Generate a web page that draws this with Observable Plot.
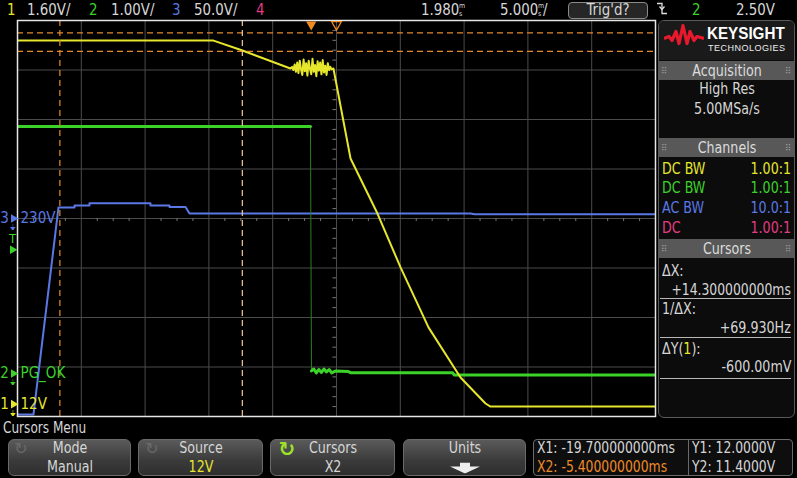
<!DOCTYPE html>
<html><head><meta charset="utf-8">
<script src="https://cdn.jsdelivr.net/npm/d3@7"></script>
<script src="https://cdn.jsdelivr.net/npm/@observablehq/plot@0.6"></script>
<style>
html,body{margin:0;padding:0;background:#000;}
#scope{position:relative;width:797px;height:478px;overflow:hidden;background:#000;
  font-family:"Liberation Sans Narrow","DejaVu Sans Condensed","Arial Narrow","Liberation Sans",sans-serif;color:#d6d6d6;}
#scope > svg{position:absolute;left:0;top:0;}
.t{position:absolute;white-space:nowrap;line-height:1;font-size:15px;}
.st{display:inline-flex;flex-direction:column;font-size:7px;line-height:8px;vertical-align:middle;margin-left:1px;}
.box{position:absolute;box-sizing:border-box;}
.btn{position:absolute;box-sizing:border-box;top:439px;height:37px;border-radius:6px;
  background:linear-gradient(#5a5a5a,#3a3a3a 60%,#2e2e2e);border:1px solid #6a6a6a;}
.hdr{position:absolute;left:659px;width:135px;height:19px;background:#585858;}
.sep{position:absolute;left:660px;width:131px;height:1px;background:#b8b8b8;}
</style></head><body><div id="scope"></div>
<script>
// ---- scope settings ----
const timebaseMsPerDiv = 5.0;
const delayMs = 1.98;
const channelLabels = ["12V", "PG_OK", "230V"];
const channelColors = ["#e6e62c", "#3cd22a", "#5a78e6"];
const voltsPerDiv = [1.6, 1.0, 50.0];
const offsetV = [6.0, 3.13, 0.0];          // voltage at screen centre
const triggerTimeMs = 0;
const triggerLevelV = 2.5;                 // on channel 2
const cursorX = [-19.7, -5.4];             // ms
const cursorY = [12.0, 11.4];              // V on channel 1

// ---- channel 1 (12V rail) ----
const ch1Time = [-23.02, -7.66, -5.39, -1.63,
  -1.50,-1.40,-1.30,-1.20,-1.10,-1.00,-0.90,-0.80,-0.70,-0.60,-0.50,-0.40,-0.30,-0.20,-0.10,0.00,
  0.10,0.20,0.30,0.40,0.50,0.60,0.70,0.80,0.90,1.00,1.10,1.20,1.30,1.40,1.50,1.60,
  1.74, 3.08, 5.19, 7.00, 9.19, 11.70, 13.66, 14.05, 26.98];
const ch1Volts = [11.75, 11.75, 11.43, 10.85,
  10.90,10.80,10.98,10.74,11.04,10.70,11.10,10.82,10.64,11.14,10.76,11.02,10.62,11.10,10.84,10.66,
  11.16,10.74,10.96,10.60,11.08,10.78,11.04,10.66,11.12,10.72,10.94,10.64,11.02,10.80,10.90,10.82,
  10.85, 7.94, 6.16, 4.42, 2.48, 0.86, 0.02, -0.08, -0.08];

// ---- channel 2 (PG_OK) ----
const ch2Time = [-23.02, -0.06, 0.02, 0.2, 0.4, 0.6, 0.8, 1.0, 1.2, 1.4, 1.6, 1.9, 2.9, 3.08, 11.07, 11.2, 26.98];
const ch2Volts = [4.99, 4.99, 0.05, 0.09, 0.01, 0.08, 0.02, 0.09, 0.03, 0.08, 0.01, 0.05, 0.04, 0.015, 0.015, -0.03, -0.03];

// ---- channel 3 (230V mains, AC coupled) ----
const ch3Time = [-23.02, -21.77, -19.81, -18.55, -18.55, -17.38, -17.38, -12.60, -12.60, -11.11, -11.11, -9.85, -9.54, 12.5, 12.8, 26.98];
const ch3Volts = [-198, -198, 11.1, 11.1, 13.1, 13.1, 15.3, 15.3, 13.1, 13.1, 11.6, 11.6, 5.05, 5.05, 4.3, 4.3];

// ---- derived ----
const toDiv = (ch, v) => (v - offsetV[ch]) / voltsPerDiv[ch];
const tMin = delayMs - 5 * timebaseMsPerDiv, tMax = delayMs + 5 * timebaseMsPerDiv;
const ch1 = ch1Time.map((t, i) => ({t, d: toDiv(0, ch1Volts[i])}));
const ch2 = ch2Time.map((t, i) => ({t, d: toDiv(1, ch2Volts[i]), seg: t < triggerTimeMs ? "high" : "low"}));
const ch3 = ch3Time.map((t, i) => ({t, d: toDiv(2, ch3Volts[i])}));
const gridX = d3.range(-4, 5).map(k => delayMs + k * timebaseMsPerDiv);
const gridY = d3.range(-3, 4);
const minorX = d3.range(-20, 21).filter(k => k % 4 !== 0).map(k => delayMs + k * timebaseMsPerDiv / 4);
const minorY = d3.range(-20, 21).filter(k => k % 5 !== 0).map(k => k / 5);
const chan = [0, 1, 2].map(i => ({i, d: toDiv(i, 0), label: channelLabels[i], num: String(i + 1), color: channelColors[i]}));
const FONT = '"Liberation Sans Narrow","DejaVu Sans Condensed","Liberation Sans",sans-serif';

const svg = Plot.plot({
  width: 797, height: 478,
  marginLeft: 17, marginRight: 142, marginTop: 20, marginBottom: 62,
  x: {domain: [tMin, tMax], axis: null},
  y: {domain: [-4, 4], axis: null},
  style: {background: "#000", overflow: "visible"},
  marks: [
    Plot.ruleX(gridX, {stroke: "#4b4b4b", strokeWidth: 1}),
    Plot.ruleY(gridY, {stroke: "#4b4b4b", strokeWidth: 1}),
    Plot.ruleX(minorX, {x: d => d, y1: 0, y2: -0.06, stroke: "#777"}),
    Plot.ruleY(minorY, {y: d => d, x1: delayMs - 0.28, x2: delayMs, stroke: "#777"}),
    // channel 3
    Plot.line(ch3, {x: "t", y: "d", stroke: channelColors[2], strokeWidth: 2, clip: true}),
    // channel 2: dim edge, bright levels
    Plot.line(ch2, {x: "t", y: "d", stroke: "#2d7d22", strokeWidth: 1, clip: true}),
    Plot.line(ch2, {x: "t", y: "d", z: "seg", stroke: channelColors[1], strokeWidth: 3, clip: true}),
    // channel 1
    Plot.line(ch1, {x: "t", y: "d", stroke: channelColors[0], strokeWidth: 2, clip: true}),
    // cursors
    Plot.ruleY(cursorY, {y: v => toDiv(0, v), stroke: "#e58a2e", strokeWidth: 1.2, strokeDasharray: "6,4"}),
    Plot.ruleX(cursorX, {x: d => d, stroke: (d, i) => i === 1 ? "#f6c79a" : "#e58a2e", strokeWidth: 1.2, strokeDasharray: "6,4"}),
    Plot.frame({stroke: "#e6e6e6", strokeWidth: 1.5}),
    // trigger position markers
    Plot.dot([triggerTimeMs], {x: d => d, y: 4, dy: 4, symbol: "triangle", rotate: 180, r: 3.8, fill: "#f28a22", stroke: "none"}),
    Plot.dot([delayMs], {x: d => d, y: 4, dy: 4, symbol: "triangle", rotate: 180, r: 3.6, fill: "none", stroke: "#f28a22", strokeWidth: 1.3}),
    // trigger level marker
    Plot.dot([triggerLevelV], {x: tMin, y: v => toDiv(1, v), dx: -5, symbol: "triangle", rotate: 90, r: 3.2, fill: channelColors[1]}),
    Plot.text([triggerLevelV], {x: tMin, y: v => toDiv(1, v), dx: -5, dy: -11, text: () => "T", fill: channelColors[1], fontSize: 13, fontFamily: FONT}),
    // channel reference markers
    Plot.text(chan, {x: tMin, y: "d", dx: -13, text: "num", fill: "color", fontSize: 15, fontFamily: FONT}),
    Plot.dot(chan, {x: tMin, y: "d", dx: -4, symbol: "triangle", rotate: 90, r: 3.2, fill: "color"}),
    Plot.text(chan, {x: tMin, y: "d", dx: -5, dy: 9, text: () => "⏚", fill: "color", fontSize: 8, fontFamily: "DejaVu Sans"}),
    Plot.text(chan, {x: tMin, y: "d", dx: 3, text: "label", textAnchor: "start", fill: "color", fontSize: 15, fontFamily: FONT})
  ]
});
const root = document.getElementById("scope");
root.appendChild(svg);

// ---- instrument UI (text overlays) ----
function txt(s, x, y, o = {}) {
  const e = document.createElement("div");
  e.className = "t";
  e.innerHTML = s;
  e.style.top = y + "px";
  const sx = o.sx ?? 0.88;
  if (o.anchor === "end") {
    e.style.right = (797 - x) + "px";
    e.style.transformOrigin = "right center";
    e.style.transform = `translateY(-50%) scaleX(${sx})`;
  } else if (o.anchor === "middle") {
    e.style.left = x + "px";
    e.style.transformOrigin = "center center";
    e.style.transform = `translate(-50%,-50%) scaleX(${sx})`;
  } else {
    e.style.left = x + "px";
    e.style.transformOrigin = "left center";
    e.style.transform = `translateY(-50%) scaleX(${sx})`;
  }
  if (o.color) e.style.color = o.color;
  if (o.size) e.style.fontSize = o.size + "px";
  if (o.weight) e.style.fontWeight = o.weight;
  if (o.family) e.style.fontFamily = o.family;
  if (o.ls) e.style.letterSpacing = o.ls;
  root.appendChild(e);
  return e;
}
function box(cls, x, y, w, h, css = "") {
  const e = document.createElement("div");
  e.className = cls;
  e.style.cssText += `left:${x}px;top:${y}px;width:${w}px;height:${h}px;` + css;
  root.appendChild(e);
  return e;
}
const PINK = "#e23c80", ORANGE = "#f08a2a";

// top bar
const TB = {size: 16, sx: 0.93};
txt("1", 7, 10, {...TB, color: channelColors[0]});
txt("1.60V/", 27, 10, TB);
txt("2", 89, 10, {...TB, color: channelColors[1]});
txt("1.00V/", 111, 10, TB);
txt("3", 172, 10, {...TB, color: channelColors[2]});
txt("50.0V/", 194, 10, TB);
txt("4", 256, 10, {...TB, color: PINK});
txt("1.980", 421, 10, TB);
txt('<span class="st"><span>m</span><span>s</span></span>', 458, 10, {sx: 1});
txt("5.000", 500, 10, TB);
txt('<span class="st"><span>m</span><span>s</span></span>', 537, 10, {sx: 1});
txt("/", 543, 10, TB);
box("box", 568, 2, 80, 17, "border:1px solid #8a8a8a;border-radius:4px;background:#262626;");
txt("Trig'd?", 608, 10, {...TB, anchor: "middle"});
txt('<svg width="10" height="14" viewBox="0 0 10 14"><polyline points="0,2 5,2 5,12 10,12" fill="none" stroke="#ddd" stroke-width="1.3"/><polyline points="2.5,5 5,8 7.5,5" fill="none" stroke="#ddd" stroke-width="1.3"/></svg>', 657, 10, {sx: 1});
txt("2", 692, 10, {...TB, color: channelColors[1]});
txt("2.50V", 736, 10, TB);

// right panel
box("box", 658, 20, 137, 398, "border:1px solid #5a5a5a;border-radius:6px;background:#0c0c0c;");
box("box", 659, 21, 135, 39, "background:#1a1a1a;border-radius:5px 5px 0 0;");
txt('<svg width="40" height="26" viewBox="0 0 40 26"><polyline points="0,15 5,13 8,17 12,8 15,20 19,2 23,20 26,8 30,17 33,13 40,15" fill="none" stroke="#e8192c" stroke-width="3.2" stroke-linejoin="round"/></svg>', 664, 38, {sx: 1});
txt("KEYSIGHT", 707, 34, {size: 16, sx: 0.95, weight: "bold", color: "#fff", family: '"Liberation Sans",Arial,sans-serif'});
txt("TECHNOLOGIES", 708, 48, {size: 9.5, sx: 0.95, color: "#eee", family: '"Liberation Sans",Arial,sans-serif', ls: "0.5px"});
const headers = [["Acquisition", 61], ["Channels", 138], ["Cursors", 239]];
for (const [h, y] of headers) {
  box("hdr", 659, y, 135, 19);
  txt(h, 727, y + 10, {anchor: "middle", size: 16, color: "#dcdcdc"});
  txt("⠿", 661, y + 10, {size: 9, sx: 1, color: "#9a9a9a", family: "DejaVu Sans"});
  txt("⠿", 785, y + 10, {size: 9, sx: 1, color: "#9a9a9a", family: "DejaVu Sans"});
}
txt("High Res", 727, 89, {anchor: "middle", size: 16});
txt("5.00MSa/s", 727, 109, {anchor: "middle", size: 16});
const chCoupling = ["DC BW", "DC BW", "AC BW", "DC"];
const chProbe = ["1.00:1", "1.00:1", "10.0:1", "1.00:1"];
const chColAll = [channelColors[0], channelColors[1], channelColors[2], PINK];
const rowY = [169, 188, 208, 228];
chCoupling.forEach((c, i) => {
  txt(c, 662, rowY[i], {color: chColAll[i], size: 16});
  txt(chProbe[i], 791, rowY[i], {color: chColAll[i], size: 16, anchor: "end"});
});
txt("ΔX:", 662, 271, {size: 16});
txt("+14.300000000ms", 791, 290, {size: 16, anchor: "end", sx: 0.86});
box("sep", 660, 298, 131, 1);
txt("1/ΔX:", 662, 309, {size: 16});
txt("+69.930Hz", 791, 328, {size: 16, anchor: "end"});
box("sep", 660, 337, 131, 1);
txt('ΔY(<span style="color:' + channelColors[0] + '">1</span>):', 662, 349, {size: 16});
txt("-600.00mV", 791, 367, {size: 16, anchor: "end"});
box("sep", 660, 378, 131, 1);

// bottom menu
txt("Cursors Menu", 3, 428, {size: 16, sx: 0.84});
const btns = [[8, 123, "Mode", "Manual", "#d6d6d6"], [138, 125, "Source", "12V", channelColors[0]], [270, 125, "Cursors", "X2", "#d6d6d6"], [403, 123, "Units", "", ""]];
for (const [x, w, a, b, c] of btns) {
  box("btn", x, 439, w, 37);
  txt(a, x + w / 2, 448, {anchor: "middle", size: 16});
  if (b) txt(b, x + w / 2, 467, {anchor: "middle", size: 16, color: c});
}
txt("↻", 21, 449, {anchor: "middle", size: 16, sx: 1, color: "#6a6a6a", family: "DejaVu Sans"});
txt("↻", 152, 449, {anchor: "middle", size: 16, sx: 1, color: "#6a6a6a", family: "DejaVu Sans"});
txt("↻", 287, 449, {anchor: "middle", size: 20, sx: 1, color: "#9ee02a", weight: "bold", family: "DejaVu Sans"});
txt('<svg width="30" height="11" viewBox="0 0 30 11"><polygon points="10,0 20,0 20,4 30,4 15,11 0,4 10,4" fill="#eee"/></svg>', 465, 469, {anchor: "middle", sx: 1});
box("box", 533, 439, 260, 37, "border:1px solid #6a6a6a;border-radius:4px;background:#0e0e0e;");
box("box", 688, 440, 1, 35, "background:#6a6a6a;");
txt("X1: -19.700000000ms", 537, 448, {size: 16, sx: 0.86});
txt("X2: -5.400000000ms", 537, 467, {size: 16, sx: 0.86, color: ORANGE});
txt("Y1: 12.0000V", 692, 448, {size: 16, sx: 0.86});
txt("Y2: 11.4000V", 692, 467, {size: 16, sx: 0.86});
</script></body></html>
